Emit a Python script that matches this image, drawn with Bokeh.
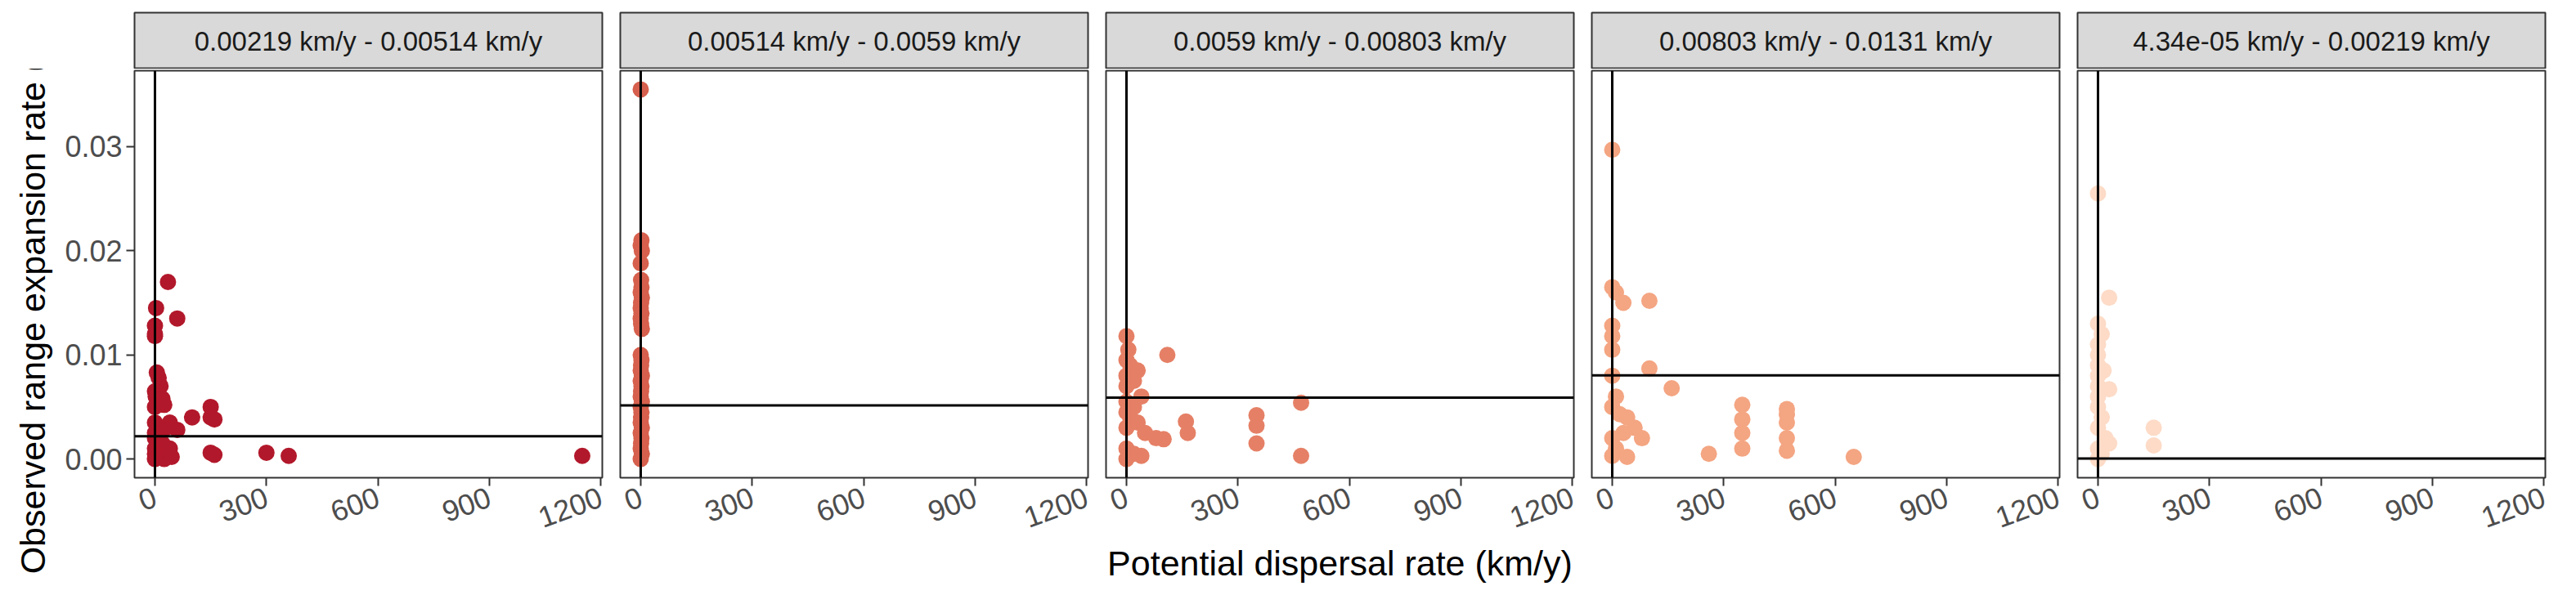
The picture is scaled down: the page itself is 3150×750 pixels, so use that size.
from bokeh.core.properties import value
from bokeh.embed import file_html
from bokeh.layouts import column, row
from bokeh.models import FixedTicker, PrintfTickFormatter, Range1d, Span
from bokeh.plotting import figure
from bokeh.resources import INLINE

labels = [
    "0.00219 km/y - 0.00514 km/y",
    "0.00514 km/y - 0.0059 km/y",
    "0.0059 km/y - 0.00803 km/y",
    "0.00803 km/y - 0.0131 km/y",
    "4.34e-05 km/y - 0.00219 km/y",
]
colors = ["#b2182b", "#d6604d", "#e58066", "#f4a582", "#fddbc7"]
thresholds = [0.00219, 0.00514, 0.0059, 0.00803, 0.0000434]

p1_x = [0, 0, 0, 3, 35, 60, 5, 10, 15, 0, 2, 20, 25, 0, 100, 150, 150, 160, 40, 60, 30, 0, 10,
        0, 0, 20, 40, 0, 0, 10, 25, 45, 150, 160, 300, 360, 1150, 0]
p1_y = [0.0128, 0.0118, 0.012, 0.0145, 0.017, 0.0135, 0.0083, 0.0078, 0.007, 0.0065, 0.006,
        0.0058, 0.0052, 0.005, 0.004, 0.005, 0.004, 0.0038, 0.0035, 0.0028, 0.003, 0.0035, 0.003,
        0.0025, 0.002, 0.0015, 0.001, 0.001, 0.0005, 0.0002, 0.0, 0.0002, 0.0006, 0.0004, 0.0006,
        0.0003, 0.0003, 0.0]
p2_y = [0.0355, 0.021, 0.0205, 0.02, 0.0188, 0.0172, 0.0165, 0.016, 0.0155, 0.015, 0.0145, 0.014,
        0.0135, 0.013, 0.0125, 0.01, 0.0095, 0.009, 0.0085, 0.008, 0.0075, 0.007, 0.0065, 0.006,
        0.0055, 0.005, 0.0045, 0.004, 0.0035, 0.003, 0.0025, 0.002, 0.0015, 0.001, 0.0005, 0.0]
p2_x = [0, 2, 0, 3, 0, 1, 2, 0, 3, 1, 0, 2, 0, 1, 3, 0, 2, 1, 0, 3, 0, 2, 1, 0, 3, 0, 2, 1, 0,
        3, 0, 2, 1, 0, 3, 0]
p3_x = [0, 5, 0, 10, 30, 110, 0, 20, 0, 40, 0, 20, 0, 10, 30, 0, 50, 80, 100, 160, 165, 350, 350,
        350, 470, 470, 0, 20, 0, 40]
p3_y = [0.0118, 0.0105, 0.0095, 0.009, 0.0085, 0.01, 0.008, 0.0075, 0.007, 0.006, 0.0055, 0.005,
        0.0045, 0.004, 0.0035, 0.003, 0.0025, 0.002, 0.0019, 0.0036, 0.0025, 0.0042, 0.0032,
        0.0015, 0.0054, 0.0003, 0.001, 0.0005, 0.0, 0.0003]
p4_x = [0, 0, 10, 30, 100, 0, 0, 0, 100, 160, 0, 10, 0, 20, 40, 60, 30, 80, 0, 10, 0, 260, 350,
        350, 350, 350, 470, 470, 470, 470, 470, 650, 40]
p4_y = [0.0297, 0.0165, 0.016, 0.015, 0.0152, 0.0128, 0.0118, 0.0105, 0.0087, 0.0068, 0.008,
        0.006, 0.005, 0.0043, 0.004, 0.003, 0.0025, 0.002, 0.002, 0.001, 0.0003, 0.0005, 0.0052,
        0.0038, 0.0025, 0.001, 0.0048, 0.0043, 0.0035, 0.002, 0.0008, 0.0002, 0.0002]
p5_x = [0, 30, 0, 10, 0, 0, 0, 15, 0, 0, 30, 0, 0, 10, 0, 20, 30, 0, 10, 150, 150, 0]
p5_y = [0.0255, 0.0155, 0.013, 0.012, 0.011, 0.01, 0.009, 0.0085, 0.008, 0.007, 0.0067, 0.006,
        0.005, 0.004, 0.003, 0.002, 0.0015, 0.001, 0.0005, 0.003, 0.0013, 0.0]
xs = [p1_x, p2_x, p3_x, p4_x, p5_x]
ys = [p1_y, p2_y, p3_y, p4_y, p5_y]

FONT = "Liberation Sans"
PANEL_W = 572
cols = []
for i in range(5):
    left = 164 if i == 0 else 11
    right = 11
    w = left + PANEL_W + right

    strip = figure(width=w, height=84, x_range=Range1d(0, 1), y_range=Range1d(0, 1),
                   x_axis_type=None, y_axis_type=None, toolbar_location=None,
                   output_backend="svg", min_border_left=left, min_border_right=right,
                   min_border_top=15, min_border_bottom=0)
    strip.background_fill_color = "#d9d9d9"
    strip.outline_line_color = "#333333"
    strip.outline_line_width = 2
    strip.grid.visible = False
    strip.text(x=[0.5], y=[0.5], text=[labels[i]], text_align="center", text_baseline="middle",
               text_font=value(FONT), text_font_size="33px", text_color="#1a1a1a")

    p = figure(width=w, height=650, x_range=Range1d(-55, 1204), y_range=Range1d(-0.0018, 0.0373),
               toolbar_location=None, output_backend="svg", min_border_left=left,
               min_border_right=right, min_border_top=2, min_border_bottom=150,
               y_axis_location="left" if i == 0 else None)
    p.grid.visible = False
    p.outline_line_color = "#333333"
    p.outline_line_width = 2
    p.scatter(xs[i], ys[i], size=20, color=colors[i], line_color=None)
    p.add_layout(Span(location=0, dimension="height", line_color="black", line_width=3))
    p.add_layout(Span(location=thresholds[i], dimension="width", line_color="black", line_width=3))
    for ax in p.axis:
        ax.axis_line_color = None
        ax.major_tick_line_color = "#333333"
        ax.major_tick_line_width = 2
        ax.major_tick_out = 10
        ax.major_tick_in = 0
        ax.minor_tick_line_color = None
        ax.major_label_text_font = FONT
        ax.major_label_text_font_size = "36px"
        ax.major_label_text_color = "#4d4d4d"
        ax.axis_label_text_font = FONT
        ax.axis_label_text_font_size = "43px"
        ax.axis_label_text_font_style = "normal"
        ax.axis_label_text_color = "black"
    p.xaxis.ticker = FixedTicker(ticks=[0, 300, 600, 900, 1200])
    p.xaxis.major_label_orientation = 0.35
    p.xaxis.major_label_standoff = 12
    p.xaxis.axis_label = "Potential dispersal rate (km/y)" if i == 2 else " "
    p.xaxis.axis_label_standoff = 4
    if i == 0:
        p.yaxis.ticker = FixedTicker(ticks=[0, 0.01, 0.02, 0.03])
        p.yaxis.formatter = PrintfTickFormatter(format="%.2f")
        p.yaxis.axis_label = "Observed range expansion rate (km/y)"
        p.yaxis.axis_label_standoff = 12
    cols.append(column(strip, p, spacing=0))

layout = row(*cols, spacing=0)
open("out.html", "w").write(file_html(layout, INLINE))
